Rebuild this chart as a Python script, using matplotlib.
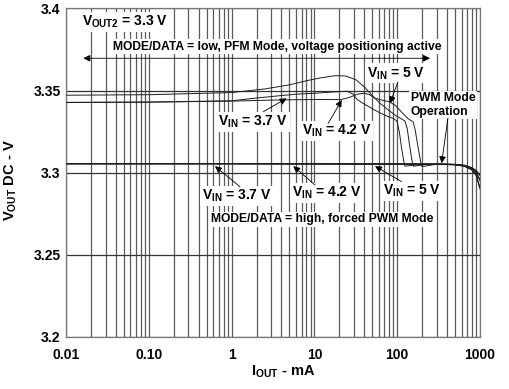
import numpy as np
import matplotlib
matplotlib.use("Agg")
import matplotlib.pyplot as plt
from matplotlib.ticker import FixedLocator, NullFormatter

plt.rcParams['font.family'] = ['Liberation Sans', 'DejaVu Sans']
plt.rcParams['font.weight'] = 'bold'
plt.rcParams['mathtext.fontset'] = 'custom'
plt.rcParams['mathtext.rm'] = 'Liberation Sans:bold'
plt.rcParams['mathtext.it'] = 'Liberation Sans:bold'
plt.rcParams['mathtext.default'] = 'rm'

# PFM mode (MODE/DATA = low), three input voltages
i_a = [0.01, 0.1, 1, 2.5, 5, 8, 12, 18, 24, 32, 41, 49, 62, 78, 98, 115, 124, 132, 140, 150, 156, 170, 220, 300, 500, 650, 800, 900, 1000]
v_a = [3.3472, 3.3475, 3.3488, 3.3510, 3.3535, 3.3560, 3.3578, 3.3591, 3.3589, 3.3565, 3.3518, 3.3474, 3.3423, 3.3382, 3.3345,
       3.3325, 3.3315, 3.3270, 3.3180, 3.3080, 3.3040, 3.3042, 3.3050, 3.3053, 3.3050, 3.3045, 3.3030, 3.3012, 3.2985]

i_b = [0.01, 0.1, 1, 2, 4, 6, 10, 15, 20, 25, 29, 33, 40, 50, 60, 75, 90, 99, 106, 113, 120, 124, 135, 180, 300, 500, 650, 800, 900, 1000]
v_b = [3.3428, 3.3430, 3.3438, 3.3455, 3.3470, 3.3478, 3.3484, 3.3490, 3.3494, 3.3496, 3.3480, 3.3445, 3.3418, 3.3390, 3.3368,
       3.3345, 3.3330, 3.3315, 3.3250, 3.3150, 3.3070, 3.3040, 3.3042, 3.3050, 3.3053, 3.3050, 3.3043, 3.3025, 3.3000, 3.2955]

i_c = [0.01, 0.1, 1, 3, 5, 10, 15, 21, 27, 33, 40, 46, 55, 68, 80, 95, 115, 135, 150, 156, 165, 178, 190, 197, 215, 300, 500, 650, 800, 900, 1000]
v_c = [3.3428, 3.3430, 3.3436, 3.3442, 3.3444, 3.3446, 3.3446, 3.3445, 3.3460, 3.3478, 3.3484, 3.3476, 3.3452, 3.3440, 3.3433,
       3.3410, 3.3365, 3.3330, 3.3315, 3.3310, 3.3260, 3.3160, 3.3080, 3.3040, 3.3040, 3.3052, 3.3049, 3.3040, 3.3018, 3.2985, 3.2905]

# forced PWM mode (MODE/DATA = high)
i_pwm = [0.01, 0.1, 1, 10, 100, 300, 500, 650, 800, 900, 1000]
pwm_37 = [3.3055, 3.3055, 3.3055, 3.3054, 3.3053, 3.3052, 3.3049, 3.3040, 3.3018, 3.2985, 3.2905]
pwm_42 = [3.3055, 3.3055, 3.3055, 3.3054, 3.3053, 3.3052, 3.3050, 3.3043, 3.3025, 3.3000, 3.2955]
pwm_50 = [3.3055, 3.3055, 3.3055, 3.3054, 3.3053, 3.3052, 3.3050, 3.3045, 3.3030, 3.3012, 3.2985]

x_ticks = [0.01, 0.1, 1, 10, 100, 1000]
x_labels = ['0.01', '0.10', '1', '10', '100', '1000']
y_ticks = [3.2, 3.25, 3.3, 3.35, 3.4]
y_labels = ['3.2', '3.25', '3.3', '3.35', '3.4']

fig = plt.figure(figsize=(5.09, 3.89), dpi=100)
ax = fig.add_axes([0.1297, 0.1337, 0.8133, 0.8445])

ax.set_xscale('log')
ax.set_xlim(0.01, 1000)
ax.set_ylim(3.2, 3.4)

minor = [m * 10.0**e for e in range(-2, 3) for m in range(2, 10)]
ax.xaxis.set_major_locator(FixedLocator(x_ticks))
ax.xaxis.set_minor_locator(FixedLocator(minor))
ax.xaxis.set_minor_formatter(NullFormatter())
ax.set_xticklabels(x_labels)
ax.set_yticks(y_ticks)
ax.set_yticklabels(y_labels)
ax.tick_params(which='both', length=0, labelsize=10)
ax.tick_params(axis='x', pad=8)
ax.tick_params(axis='y', pad=4)
for lab in ax.get_xticklabels() + ax.get_yticklabels():
    lab.set_fontweight('bold')

ax.grid(True, which='both', axis='x', color='#5a5a5a', lw=0.9)
ax.grid(True, which='major', axis='y', color='#333333', lw=0.9)
ax.set_axisbelow(True)
for s in ax.spines.values():
    s.set_color('#777777')
    s.set_linewidth(0.9)

lc = '#1e1e1e'
for ii, vv in [(i_a, v_a), (i_b, v_b), (i_c, v_c)]:
    ax.plot(ii, vv, color=lc, lw=0.7, zorder=3)
for vv in [pwm_37, pwm_42, pwm_50]:
    ax.plot(i_pwm, vv, color=lc, lw=0.9, zorder=3)

box = dict(boxstyle='square,pad=0.12', fc='white', ec='none')
arw = dict(arrowstyle='-|>', color='k', lw=0.6, mutation_scale=10, shrinkA=0, shrinkB=0)

ax.text(0.0156, 3.3918, r'V$_{OUT2}$ = 3.3 V', fontsize=10, ha='left', va='center', bbox=box, zorder=5)
ax.text(0.037, 3.3767, 'MODE/DATA = low, PFM Mode, voltage positioning active', fontsize=8.7,
        ha='left', va='center', bbox=box, zorder=5)
ax.annotate('', xy=(0.0162, 3.3697), xytext=(249, 3.3697),
            arrowprops=dict(arrowstyle='<|-|>', color='k', lw=0.6, mutation_scale=10, shrinkA=0, shrinkB=0), zorder=6)

ax.text(43.2, 3.3605, r'V$_{IN}$ = 5 V', fontsize=10, ha='left', va='center', bbox=box, zorder=5)
ax.annotate('', xy=(81.9, 3.3423), xytext=(102, 3.3553), arrowprops=arw, zorder=6)

ax.text(145.6, 3.3412, 'PWM Mode\nOperation', fontsize=8.7, ha='left', va='center', linespacing=1.2,
        bbox=box, zorder=5)
ax.annotate('', xy=(344, 3.3058), xytext=(410, 3.3333), arrowprops=arw, zorder=6)

ax.text(0.69, 3.3311, r'V$_{IN}$ = 3.7 V', fontsize=10, ha='left', va='center', bbox=box, zorder=5)
ax.annotate('', xy=(4.62, 3.3453), xytext=(2.42, 3.3372), arrowprops=arw, zorder=6)

ax.text(7.03, 3.3256, r'V$_{IN}$ = 4.2 V', fontsize=10, ha='left', va='center', bbox=box, zorder=5)
ax.annotate('', xy=(21.4, 3.3443), xytext=(14.7, 3.3301), arrowprops=arw, zorder=6)

ax.text(0.435, 3.2860, r'V$_{IN}$ = 3.7 V', fontsize=10, ha='left', va='center', bbox=box, zorder=5)
ax.annotate('', xy=(0.63, 3.3040), xytext=(1.26, 3.2915), arrowprops=arw, zorder=6)

ax.text(5.32, 3.2875, r'V$_{IN}$ = 4.2 V', fontsize=10, ha='left', va='center', bbox=box, zorder=5)
ax.annotate('', xy=(5.56, 3.3040), xytext=(10.2, 3.2925), arrowprops=arw, zorder=6)

ax.text(67.9, 3.2890, r'V$_{IN}$ = 5 V', fontsize=10, ha='left', va='center', bbox=box, zorder=5)
ax.annotate('', xy=(53.9, 3.3040), xytext=(113, 3.2946), arrowprops=arw, zorder=6)

ax.text(0.558, 3.2717, 'MODE/DATA = high, forced PWM Mode', fontsize=8.7, ha='left', va='center',
        bbox=box, zorder=5)

ax.set_xlabel(r'I$_{OUT}$ - mA', fontsize=10.5, fontweight='bold')
ax.set_ylabel(r'V$_{OUT}$ DC - V', fontsize=10.5, fontweight='bold')
ax.xaxis.set_label_coords(0.524, -0.08)
ax.yaxis.set_label_coords(-0.114, 0.478)

fig.savefig('out.png', dpi=100)
